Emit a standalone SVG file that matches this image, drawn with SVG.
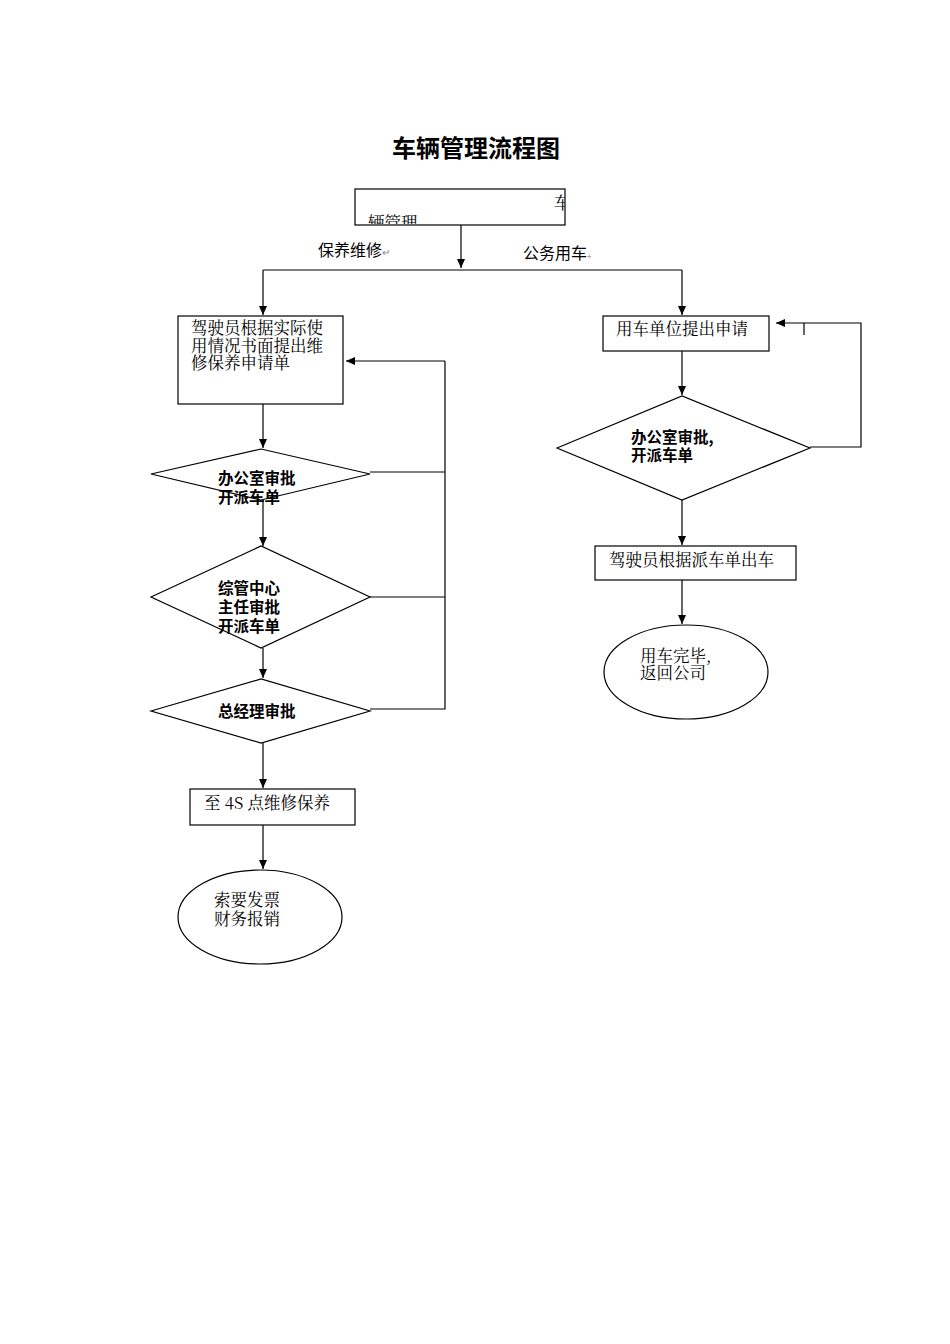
<svg xmlns="http://www.w3.org/2000/svg" width="950" height="1344" viewBox="0 0 950 1344">
<style>
.s{fill:#fff;stroke:#000;stroke-width:1.2}
.l{fill:none;stroke:#000;stroke-width:1.2}
.t{font-family:"Noto Sans CJK SC",sans-serif;font-size:16px;fill:#000}
.b{font-family:"Noto Sans CJK SC",sans-serif;font-size:15.5px;font-weight:bold;fill:#000}
.r{font-family:"Noto Serif CJK SC","Noto Sans CJK SC",serif;font-size:16.5px;fill:#000}
</style>
<defs>
<marker id="a" markerWidth="10" markerHeight="10" refX="9" refY="5" orient="auto" markerUnits="userSpaceOnUse"><path d="M0,1 L9,5 L0,9 z" fill="#000"/></marker>
<clipPath id="c"><rect x="355" y="189" width="210" height="35"/></clipPath>
</defs>
<rect width="950" height="1344" fill="#fff"/>
<text x="476" y="157" text-anchor="middle" class="b" style="font-size:24px">车辆管理流程图</text>
<g id="connectors">
<path class="l" d="M461,225 V268" marker-end="url(#a)"/>
<path class="l" d="M263,270 H682"/>
<path class="l" d="M263,270 V315" marker-end="url(#a)"/>
<path class="l" d="M682,270 V315" marker-end="url(#a)"/>
<path class="l" d="M263,404 V448" marker-end="url(#a)"/>
<path class="l" d="M263,500 V546" marker-end="url(#a)"/>
<path class="l" d="M263,648 V678" marker-end="url(#a)"/>
<path class="l" d="M263,743 V788" marker-end="url(#a)"/>
<path class="l" d="M263,825 V869" marker-end="url(#a)"/>
<path class="l" d="M370,472 H445 M370,597 H445 M370,709 H445 V361"/>
<path class="l" d="M445,361 H346" marker-end="url(#a)"/>
<path class="l" d="M682,351 V395" marker-end="url(#a)"/>
<path class="l" d="M682,500 V545" marker-end="url(#a)"/>
<path class="l" d="M682,580 V624" marker-end="url(#a)"/>
<path class="l" d="M810,447 H861 V323 H776" marker-end="url(#a)"/>
<path class="l" d="M804,323 V335"/>
<text x="318" y="256" class="t">保养维修<tspan style="font-size:10px;fill:#888">↵</tspan></text>
<text x="523" y="259" class="t">公务用车<tspan style="font-size:8px;fill:#888">+</tspan></text>
</g>
<g id="n0"><rect x="355" y="189" width="210" height="36" class="s"/>
<g clip-path="url(#c)"><text x="554" y="209" class="r">车</text><text x="368" y="229" class="r">辆管理</text></g></g>
<g id="n1"><rect x="178" y="316" width="165" height="88" class="s"/>
<text class="r" x="191" y="334">驾驶员根据实际使</text><text class="r" x="191" y="352">用情况书面提出维</text><text class="r" x="191" y="369">修保养申请单</text></g>
<g id="n2"><polygon points="151,474 261,449 370,474 261,500" class="s"/>
<text class="b" x="218" y="484">办公室审批</text><text class="b" x="218" y="503">开派车单</text></g>
<g id="n3"><polygon points="151,597 261,546 370,597 261,648" class="s"/>
<text class="b" x="218" y="594">综管中心</text><text class="b" x="218" y="613">主任审批</text><text class="b" x="218" y="632">开派车单</text></g>
<g id="n4"><polygon points="151,711 261,679 370,711 261,743" class="s"/>
<text class="b" x="218" y="717">总经理审批</text></g>
<g id="n5"><rect x="190" y="789" width="165" height="36" class="s"/>
<text class="r" x="204" y="809">至 4S 点维修保养</text></g>
<g id="n6"><ellipse cx="260" cy="917" rx="82" ry="47" class="s"/>
<text class="r" x="214" y="906">索要发票</text><text class="r" x="214" y="925">财务报销</text></g>
<g id="n7"><rect x="603" y="316" width="166" height="35" class="s"/>
<text class="r" x="616" y="335">用车单位提出申请</text></g>
<g id="n8"><polygon points="557,448 682,396 810,448 682,500" class="s"/>
<text class="b" x="631" y="443">办公室审批,</text><text class="b" x="631" y="461">开派车单</text></g>
<g id="n9"><rect x="595" y="546" width="201" height="34" class="s"/>
<text class="r" x="609" y="566">驾驶员根据派车单出车</text></g>
<g id="n10"><ellipse cx="686" cy="672" rx="82" ry="47" class="s"/>
<text class="r" x="640" y="662">用车完毕,</text><text class="r" x="640" y="679">返回公司</text></g>
</svg>
